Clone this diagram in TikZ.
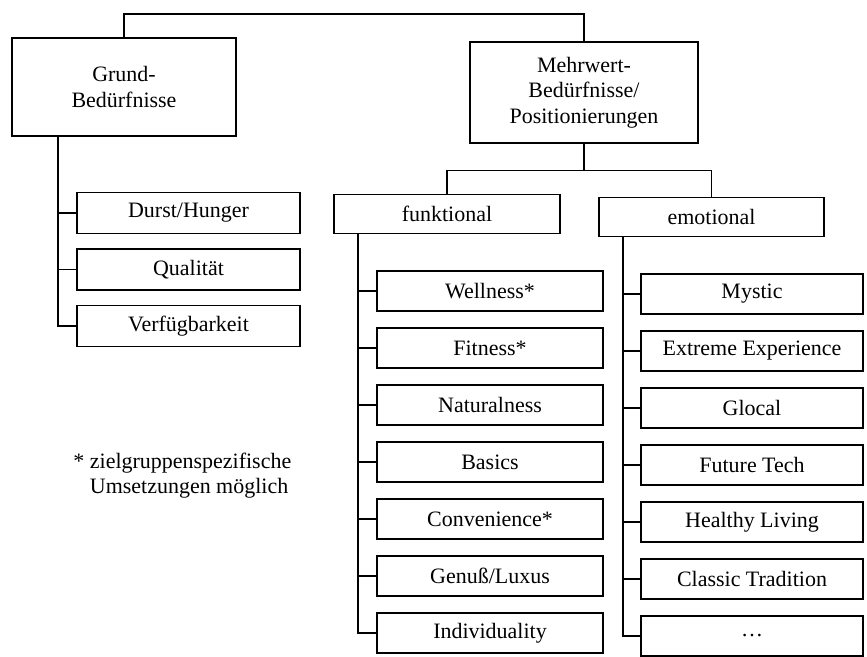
\documentclass[tikz,border=0pt]{standalone}
\usepackage{fontspec}
\setmainfont{Liberation Serif}
\usetikzlibrary{calc}

\begin{document}
\begin{tikzpicture}[font=\fontsize{12.5}{14.6}\selectfont, line width=.7pt]

    % Rahmen der Zeichnung
    \useasboundingbox (0,0) rectangle (17.34,-13.14);

    % Groesse der kleinen Bloecke (Hoehe, Breite) und Abstand
    \def\szh{.8cm}
    \def\szw{4.44cm}
    \def\dy{1.14}

    % Stil der Bloecke
    \tikzstyle{block} = [
      draw, fill=white, rectangle, align=center, inner sep=2pt
    ];
    \tikzstyle{item} = [block, minimum height=\szh, minimum width=\szw];

    % Obere Ebene: Grund- und Mehrwert-Beduerfnisse
    \node[block, minimum width=4.48cm, minimum height=1.96cm] (grund) at (2.48,-1.74) {Grund-\\Bedürfnisse};
    \node[block, minimum width=4.56cm, minimum height=2.02cm] (mehr) at (11.68,-1.85) {Mehrwert-\\Bedürfnisse/\\Positionierungen};
    \coordinate (top) at (7,-0.28);
    \draw (grund.north) -- (grund.north |- top) -- (mehr.north |- top) -- (mehr.north);

    % Grundbeduerfnisse
    \foreach \t [count=\i] in {Durst/Hunger, Qualität, Verfügbarkeit}
    {
      \node[item, minimum width=4.46cm, minimum height=.82cm] (g\i) at (3.77,{-4.26-(\i-1)*1.13}) {\t};
    }
    \coordinate (gs) at ([xshift=-1.32cm]grund.south);
    \draw (gs) |- (g3.west);
    \foreach \i in {1,2}
      \draw (g\i.west) -- (g\i.west -| gs);

    % funktional / emotional
    \node[item, minimum width=4.52cm, minimum height=.78cm] (funk) at (8.94,-4.28) {funktional};
    \node[item, minimum width=4.5cm, minimum height=.78cm] (emo) at (14.23,-4.34) {emotional};
    \draw (mehr.south) -- ++(0,-.54) coordinate (mh);
    \draw (funk.north) |- (mh) -| (emo.north);

    % Funktionale Positionierungen
    \foreach \t [count=\i] in {Wellness*, Fitness*, Naturalness, Basics, Convenience*, Genuß/Luxus, Individuality}
    {
      \node[item, minimum width=4.52cm] (f\i) at (9.80,{-5.82-(\i-1)*\dy}) {\t};
    }
    \coordinate (fs) at ([xshift=-1.78cm]funk.south);
    \draw (fs) |- (f7.west);
    \foreach \i in {1,...,6}
      \draw (f\i.west) -- (f\i.west -| fs);

    % Emotionale Positionierungen (letzter Block: Punkte)
    \foreach \t [count=\i] in {Mystic, Extreme Experience, Glocal, Future Tech, Healthy Living, Classic Tradition, \dots}
    {
      \node[item] (e\i) at (15.04,{-5.88-(\i-1)*\dy}) {\t};
    }
    \coordinate (es) at ([xshift=-1.77cm]emo.south);
    \draw (es) |- (e7.west);
    \foreach \i in {1,...,6}
      \draw (e\i.west) -- (e\i.west -| es);

    % Fussnote
    \node[anchor=west, align=left] (note) at (1.67,-9.51) {\makebox[0pt][r]{*~}zielgruppenspezifische\\Umsetzungen möglich};

\end{tikzpicture}
\end{document}
